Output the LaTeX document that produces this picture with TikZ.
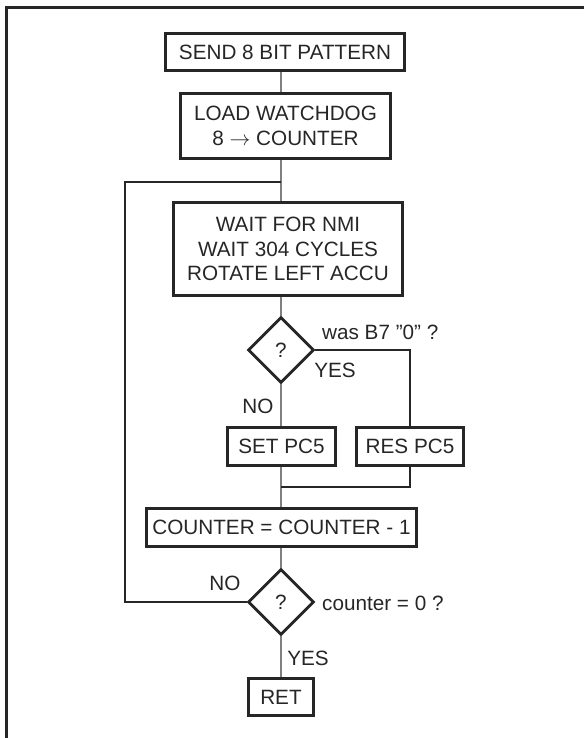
\documentclass[tikz,border=0pt]{standalone}
\usepackage{fontspec}
\setmainfont{Liberation Sans}
\usetikzlibrary{shapes.geometric}
\begin{document}
\begin{tikzpicture}[x=1pt,y=-1pt,
  every node/.style={font=\fontsize{20.7}{24.5}\selectfont, text=black!85},
  procbox/.style={draw=black!85, line width=2.8pt, rectangle, inner sep=0pt, align=center},
  decision/.style={draw=black!85, line width=2.8pt, diamond, inner sep=0pt, minimum width=66pt, minimum height=66pt},
  conn/.style={draw=black!50, line width=1.5pt},
  loopline/.style={draw=black!85, line width=1.8pt},
  lbl/.style={inner sep=0pt}
]
\useasboundingbox (0,0) rectangle (584,738);
\draw[line width=3pt, black!85] (584,7.5) -- (6,7.5) -- (6,738);

\node[procbox, minimum width=239pt, minimum height=37pt] (send) at (285,52) {SEND 8 BIT PATTERN};
\node[procbox, minimum width=210pt, minimum height=65pt] (load) at (285.5,126) {LOAD WATCHDOG\\8 $\rightarrow$ COUNTER};
\node[procbox, minimum width=229pt, minimum height=93pt] (wait) at (288,249) {WAIT FOR NMI\\WAIT 304 CYCLES\\ROTATE LEFT ACCU};
\node[decision] (d1) at (281,350) {?};
\node[procbox, minimum width=108pt, minimum height=38pt] (set) at (281.5,446.5) {SET PC5};
\node[procbox, minimum width=107pt, minimum height=38pt] (res) at (410,446.5) {RES PC5};
\node[procbox, minimum width=270pt, minimum height=38pt] (cnt) at (281.5,527.5) {COUNTER = COUNTER - 1};
\node[decision] (d2) at (281,602) {?};
\node[procbox, minimum width=65pt, minimum height=37pt] (ret) at (281,697) {RET};

\coordinate (j) at (281,182);
\coordinate (m) at (281,487);
\coordinate (lp) at (125,602);

\draw[conn] (send.south -| d1.north) -- (load.north -| d1.north);
\draw[conn] (load.south -| d1.north) -- (wait.north -| d1.north);
\draw[conn] (wait.south -| d1.north) -- (d1.north);
\draw[conn] (d1.south) -- (set.north -| d1.south);
\draw[loopline] (d1.east) -| (res.north);
\draw[conn] (set.south -| d1.south) -- (cnt.north -| d1.south);
\draw[loopline] (res.south) |- (m);
\draw[conn] (cnt.south -| d2.north) -- (d2.north);
\draw[conn] (d2.south) -- (ret.north -| d2.south);
\draw[loopline] (d2.west) -- (lp) |- (j);

\node[lbl, anchor=west] (q1) at (322,332) {was B7 ”0” ?};
\node[lbl] (y1) at (335,370) {YES};
\node[lbl] (n1) at (258,406) {NO};
\node[lbl] (n2) at (225,583) {NO};
\node[lbl, anchor=west] (q2) at (322,603) {counter = 0 ?};
\node[lbl] (y2) at (308,658) {YES};
\end{tikzpicture}
\end{document}
